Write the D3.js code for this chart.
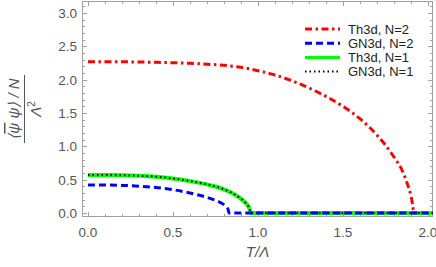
<!DOCTYPE html>
<html><head><meta charset="utf-8">
<script src="https://cdn.jsdelivr.net/npm/d3@7"></script>
<style>body{margin:0;background:#fff}svg{display:block}text{font-family:"Liberation Sans",Arial,sans-serif}</style>
</head><body>
<svg id="c" width="436" height="267"></svg>
<script>
// Data
const th3dN2_T = [0, 0.2, 0.4, 0.6, 0.7, 0.8, 0.9, 1.0, 1.1, 1.2, 1.3, 1.4, 1.5, 1.6, 1.7, 1.75, 1.8, 1.85, 1.88, 1.9, 1.91, 1.917, 2.03];
const th3dN2_V = [2.27, 2.268, 2.26, 2.245, 2.232, 2.215, 2.185, 2.135, 2.07, 1.985, 1.875, 1.75, 1.60, 1.415, 1.17, 1.02, 0.84, 0.63, 0.43, 0.26, 0.13, 0, 0];
const gn3dN2_T = [0, 0.1, 0.2, 0.3, 0.4, 0.5, 0.6, 0.65, 0.7, 0.75, 0.78, 0.8, 0.815, 0.825, 0.83, 2.03];
const gn3dN2_V = [0.42, 0.419, 0.414, 0.403, 0.383, 0.35, 0.30, 0.27, 0.235, 0.19, 0.155, 0.125, 0.09, 0.05, 0, 0];
const th3dN1_T = [0, 0.1, 0.2, 0.3, 0.4, 0.5, 0.6, 0.7, 0.75, 0.8, 0.85, 0.9, 0.925, 0.94, 0.95, 0.958, 2.03];
const th3dN1_V = [0.57, 0.569, 0.566, 0.559, 0.545, 0.518, 0.478, 0.43, 0.397, 0.355, 0.298, 0.215, 0.16, 0.115, 0.07, 0, 0];
const gn3dN1_T = th3dN1_T;
const gn3dN1_V = th3dN1_V;
const xTicks = [0, 0.5, 1.0, 1.5, 2.0];
const yTicks = [0, 0.5, 1.0, 1.5, 2.0, 2.5, 3.0];
const legendLabels = ["Th3d, N=2", "GN3d, N=2", "Th3d, N=1", "GN3d, N=1"];

const svg = d3.select("#c");
const L = 82, R = 433, T = 1, B = 217;
const x = d3.scaleLinear().domain([-0.035, 2.03]).range([L, R]);
const y = d3.scaleLinear().domain([-0.06, 3.18]).range([B, T]);
const frameCol = "#a0a0a0", textCol = "#555";

// frame
svg.append("rect").attr("x", L + 0.5).attr("y", T + 0.5).attr("width", R - L - 1).attr("height", B - T - 1)
  .attr("fill", "none").attr("stroke", frameCol).attr("stroke-width", 1);

// ticks
const xMinor = d3.range(0, 2.0001, 0.1);
const yMinor = d3.range(0, 3.1001, 0.1);
const isMajor = v => Math.abs(v * 2 - Math.round(v * 2)) < 1e-6;
const tg = svg.append("g").attr("stroke", frameCol).attr("stroke-width", 1);
xMinor.forEach(v => {
  const len = isMajor(v) ? 5 : 3, px = Math.round(x(v)) + 0.5;
  tg.append("line").attr("x1", px).attr("x2", px).attr("y1", B).attr("y2", B - len);
  tg.append("line").attr("x1", px).attr("x2", px).attr("y1", T).attr("y2", T + len);
});
yMinor.forEach(v => {
  const len = isMajor(v) ? 5 : 3, py = Math.round(y(v)) + 0.5;
  tg.append("line").attr("x1", L).attr("x2", L + len).attr("y1", py).attr("y2", py);
  tg.append("line").attr("x1", R).attr("x2", R - len).attr("y1", py).attr("y2", py);
});
svg.append("g").selectAll("text").data(xTicks).join("text")
  .attr("x", d => x(d)).attr("y", 237).attr("text-anchor", "middle")
  .attr("font-size", 13.5).attr("fill", textCol).text(d => d.toFixed(1));
svg.append("g").selectAll("text").data(yTicks).join("text")
  .attr("x", 77).attr("y", d => y(d) + 5).attr("text-anchor", "end")
  .attr("font-size", 13.5).attr("fill", textCol).text(d => d.toFixed(1));

// axis labels
svg.append("text").attr("x", (L + R) / 2).attr("y", 257).attr("text-anchor", "middle")
  .attr("font-size", 15).attr("fill", textCol).attr("font-style", "italic").text("T/Λ");
const yl = svg.append("g").attr("transform", `translate(24,${(T + B) / 2}) rotate(-90)`);
const num = yl.append("text").attr("x", 0).attr("y", -5).attr("text-anchor", "middle")
  .attr("font-size", 15).attr("fill", textCol).attr("font-style", "italic");
num.append("tspan").text("⟨");
num.append("tspan").attr("text-decoration", "overline").text("ψ");
num.append("tspan").text(" ψ⟩ / N");
yl.append("line").attr("x1", -34).attr("x2", 34).attr("y1", 0.5).attr("y2", 0.5).attr("stroke", textCol).attr("stroke-width", 1);
const den = yl.append("text").attr("x", 0).attr("y", 17).attr("text-anchor", "middle")
  .attr("font-size", 15).attr("fill", textCol).attr("font-style", "italic");
den.append("tspan").text("Λ");
den.append("tspan").attr("font-size", 10).attr("dy", -6).attr("font-style", "normal").text("2");

// curves
svg.append("clipPath").attr("id", "clp").append("rect").attr("x", L).attr("y", T).attr("width", R - L).attr("height", B - T);
const line = d3.line().x(d => x(d[0])).y(d => y(d[1])).curve(d3.curveMonotoneX);
const series = [
  {T: th3dN2_T, V: th3dN2_V, color: "#ff0000", w: 3, dash: "7,3.5,2.5,3.5"},
  {T: th3dN1_T, V: th3dN1_V, color: "#00ff00", w: 4, dash: null},
  {T: gn3dN1_T, V: gn3dN1_V, color: "#000000", w: 2, dash: "1.5,3"},
  {T: gn3dN2_T, V: gn3dN2_V, color: "#0000ff", w: 3, dash: "7,4"}
];
const cg = svg.append("g").attr("clip-path", "url(#clp)");
series.forEach(s => {
  cg.append("path").attr("d", line(s.T.map((t, i) => [t, s.V[i]])))
    .attr("fill", "none").attr("stroke", s.color).attr("stroke-width", s.w)
    .attr("stroke-dasharray", s.dash);
});

// legend
const legStyles = [series[0], series[3], series[1], series[2]];
const lg = svg.append("g");
legendLabels.forEach((lab, i) => {
  const yy = 29 + i * 14.2;
  lg.append("line").attr("x1", 305).attr("x2", 340).attr("y1", yy).attr("y2", yy)
    .attr("stroke", legStyles[i].color).attr("stroke-width", legStyles[i].w === 4 ? 3 : legStyles[i].w)
    .attr("stroke-dasharray", legStyles[i].dash);
  lg.append("text").attr("x", 348).attr("y", yy + 4.5).attr("font-size", 13).attr("fill", "#222").text(lab);
});
</script>
</body></html>
